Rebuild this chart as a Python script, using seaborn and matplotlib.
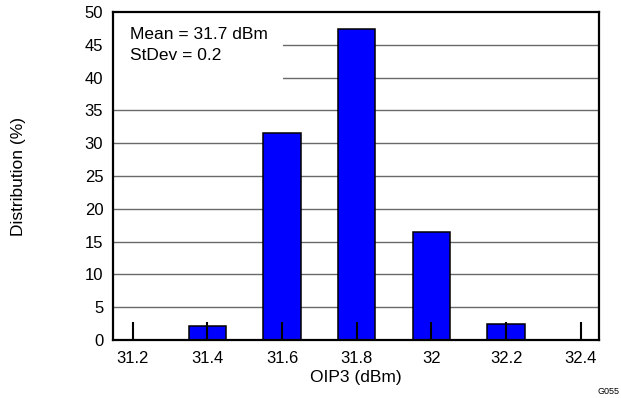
# OIP3 distribution histogram
import numpy as np
import pandas as pd
import matplotlib
matplotlib.use("Agg")
import matplotlib.pyplot as plt
import seaborn as sns
from matplotlib.patches import Rectangle

# -------------------------------
# Data
# -------------------------------
oip3_bins = [31.4, 31.6, 31.8, 32.0, 32.2]
distribution = [2.1, 31.5, 47.4, 16.4, 2.4]

x_ticks = [31.2, 31.4, 31.6, 31.8, 32.0, 32.2, 32.4]
x_tick_labels = ["31.2", "31.4", "31.6", "31.8", "32", "32.2", "32.4"]
y_ticks = [0, 5, 10, 15, 20, 25, 30, 35, 40, 45, 50]

stats_text = "Mean = 31.7 dBm\nStDev = 0.2"

df = pd.DataFrame({"OIP3": oip3_bins, "Distribution": distribution})

sns.set_style("white")
plt.rcParams["font.family"] = ["Liberation Sans", "DejaVu Sans"]
plt.rcParams["text.color"] = "black"
plt.rcParams["axes.labelcolor"] = "black"
plt.rcParams["xtick.color"] = "black"
plt.rcParams["ytick.color"] = "black"

fig = plt.figure(figsize=(6.21, 3.98), dpi=100)
ax = fig.add_axes([0.182, 0.1457, 0.7826, 0.8241])

# horizontal grid lines behind the bars
for yv in y_ticks[1:-1]:
    ax.axhline(yv, color="#6a6a6a", lw=1.0, zorder=0.3)

# white box behind the stats text
ax.add_patch(Rectangle((0, 0.765), 0.35, 0.235, transform=ax.transAxes,
                       facecolor="white", edgecolor="none", zorder=0.6))

sns.barplot(
    data=df, x="OIP3", y="Distribution",
    native_scale=True, width=0.5,
    color="#0000ff", saturation=1,
    edgecolor="black", linewidth=1.1,
    ax=ax, zorder=1,
)

# ticks sit on top of the bars
ax.set_axisbelow(False)

ax.set_xlim(31.147, 32.449)
ax.set_ylim(0, 50)
ax.set_xticks(x_ticks)
ax.set_xticklabels(x_tick_labels)
ax.set_yticks(y_ticks)

ax.tick_params(axis="x", bottom=True, direction="in", length=13, width=1.5,
               color="black", labelcolor="black", labelsize=12, pad=8)
ax.tick_params(axis="y", left=False, length=0, labelcolor="black",
               labelsize=12, pad=7)

for s in ax.spines.values():
    s.set_visible(True)
    s.set_color("black")
    s.set_linewidth(1.6)

ax.set_xlabel("OIP3 (dBm)", fontsize=12.5, color="black")
ax.set_ylabel("Distribution (%)", fontsize=12.5, color="black")
ax.xaxis.set_label_coords(0.5, -0.09)
ax.yaxis.set_label_coords(-0.18, 0.5)

ax.text(0.035, 0.955, stats_text, transform=ax.transAxes, color="black",
        fontsize=12.5, va="top", ha="left", linespacing=1.55, zorder=3)

fig.text(598 / 621, 2 / 398, "G055", fontsize=6.5, ha="left", va="bottom",
         color="black")

fig.savefig("out.png", dpi=100)
